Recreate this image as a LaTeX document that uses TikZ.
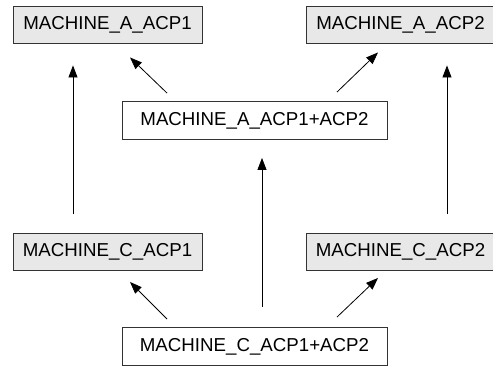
\documentclass[tikz,border=0pt]{standalone}
\usepackage{fontspec}
\setmainfont{Liberation Sans}
\usetikzlibrary{arrows.meta}
\definecolor{boxgray}{HTML}{E8E8E8}
\definecolor{linegray}{HTML}{333333}
\begin{document}
\begin{tikzpicture}[x=1pt,y=-1pt,
  leaf/.style={draw=linegray,line width=0.9pt,fill=boxgray,minimum width=189pt,minimum height=37pt,inner sep=0pt,font=\fontsize{18.7}{20}\selectfont},
  merged/.style={draw=linegray,line width=0.9pt,fill=white,minimum width=265pt,minimum height=38pt,inner sep=0pt,font=\fontsize{18.7}{20}\selectfont},
  arr/.style={draw=black,line width=0.8pt,-{Triangle[length=12pt,width=9pt]}}]
\useasboundingbox (0,0) rectangle (493,367);
\node[leaf] (A1) at (107.5,24.5) {MACHINE\_A\_ACP1};
\node[leaf] (A2) at (400.5,24.5) {MACHINE\_A\_ACP2};
\node[merged] (AM) at (254.5,120.5) {MACHINE\_A\_ACP1+ACP2};
\node[leaf] (C1) at (107.5,252) {MACHINE\_C\_ACP1};
\node[leaf] (C2) at (400.5,252) {MACHINE\_C\_ACP2};
\node[merged] (CM) at (254.5,346.5) {MACHINE\_C\_ACP1+ACP2};
% verticals
\draw[arr,shorten <=19pt,shorten >=22pt] ([xshift=-34.5pt]C1.north) -- ([xshift=-34.5pt]A1.south);
\draw[arr,shorten <=19pt,shorten >=22pt] ([xshift=46.5pt]C2.north) -- ([xshift=46.5pt]A2.south);
\draw[arr,shorten <=20pt,shorten >=18pt] ([xshift=7.5pt]CM.north) -- ([xshift=7.5pt]AM.south);
% diagonals
\draw[arr] ([shift={(-87.5,-8)}]AM.north) -- ([shift={(22.5,14)}]A1.south);
\draw[arr] ([shift={(82.5,-9)}]AM.north) -- ([shift={(-22.5,9)}]A2.south);
\draw[arr] ([shift={(-87.5,-8)}]CM.north) -- ([shift={(22.5,11)}]C1.south);
\draw[arr] ([shift={(82.5,-10)}]CM.north) -- ([shift={(-22.5,7)}]C2.south);
\end{tikzpicture}
\end{document}
